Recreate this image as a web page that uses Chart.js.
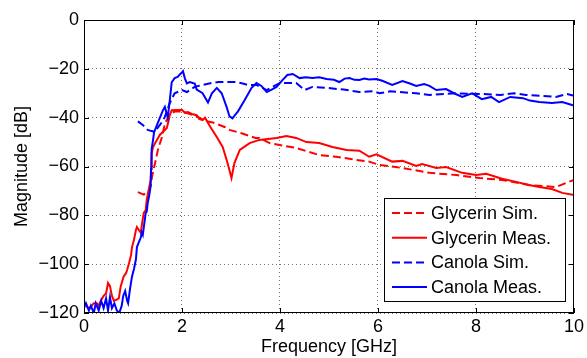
<!DOCTYPE html>
<html><head><meta charset="utf-8">
<script src="https://cdn.jsdelivr.net/npm/chart.js@4"></script>
<style>html,body{margin:0;padding:0;background:#fff;}canvas{display:block;}</style>
</head><body>
<canvas id="c" width="587" height="358"></canvas>
<script>
const seriesLabels = ['Glycerin Sim.', 'Glycerin Meas.', 'Canola Sim.', 'Canola Meas.'];
const xTicks = [0, 2, 4, 6, 8, 10];
const yTicks = [0, -20, -40, -60, -80, -100, -120];

// [frequency GHz, magnitude dB]
const glycerinSim = [[1.1,-70.5],[1.22,-71.5],[1.32,-70],[1.36,-68],[1.39,-64],[1.45,-58.6],[1.51,-53],[1.59,-48],[1.65,-42.5],[1.75,-38.5],[1.85,-37.5],[2.0,-37.5],[2.16,-38.5],[2.3,-39.5],[2.5,-41.5],[2.63,-42],[2.87,-43.8],[2.97,-45],[3.2,-46.3],[3.5,-48.3],[3.58,-48.3],[3.8,-50.5],[4.33,-52.4],[4.8,-55.3],[5.15,-56],[5.56,-57.3],[5.82,-58],[6.03,-59.4],[6.5,-60.6],[7.05,-62.6],[7.6,-63.5],[8.07,-64.7],[8.53,-65.5],[9.08,-67.6],[9.63,-68.4],[9.84,-66.7],[10,-65.5]];
const glycerinMeas = [[0,-117],[0.04,-116.5],[0.08,-118],[0.14,-117.5],[0.2,-116],[0.26,-116],[0.3,-117],[0.35,-114.7],[0.4,-113],[0.45,-112],[0.49,-107.7],[0.53,-109],[0.57,-113],[0.61,-115],[0.65,-114.7],[0.71,-114],[0.75,-109],[0.81,-105],[0.86,-103.6],[0.88,-102.4],[0.92,-99.5],[0.96,-96.2],[0.98,-93],[1.02,-90],[1.06,-86],[1.08,-84.8],[1.12,-86],[1.16,-87.2],[1.18,-84],[1.22,-79],[1.26,-77.8],[1.28,-73.7],[1.32,-69.6],[1.36,-65.5],[1.38,-54.5],[1.41,-52],[1.49,-49],[1.55,-47],[1.61,-45.9],[1.69,-44.2],[1.73,-41],[1.75,-39],[1.79,-37],[1.89,-36.9],[2.0,-36.9],[2.06,-38],[2.12,-37.7],[2.2,-38.5],[2.3,-39],[2.35,-40.5],[2.42,-41],[2.47,-40],[2.57,-43.5],[2.71,-47.9],[2.83,-52],[2.93,-58.6],[3.01,-64.7],[3.07,-58.6],[3.18,-53.2],[3.38,-50.4],[3.58,-49.1],[3.93,-48.3],[4.13,-47.5],[4.33,-48.3],[4.54,-50],[4.8,-50.4],[5.07,-52],[5.36,-53.2],[5.62,-53.5],[5.82,-56],[5.97,-55],[6.29,-58],[6.5,-57.7],[6.78,-59.8],[6.9,-59],[7.19,-60.6],[7.39,-60.2],[7.72,-62.6],[8.0,-63.5],[8.21,-63],[8.53,-65],[8.82,-66.3],[9.08,-67.6],[9.29,-68.4],[9.55,-69.2],[9.76,-70.8],[10,-71.7]];
const canolaSim = [[1.1,-41.5],[1.2,-43],[1.3,-45],[1.38,-45.5],[1.45,-45.8],[1.51,-44],[1.55,-43],[1.6,-41.5],[1.65,-39.7],[1.75,-34],[1.85,-30],[2.0,-28.7],[2.1,-29.5],[2.26,-27.4],[2.42,-26.6],[2.6,-25.8],[2.75,-25.4],[3.1,-25.4],[3.2,-25.8],[3.35,-26.6],[3.52,-26.6],[3.73,-28.7],[3.85,-27.4],[4.0,-25.8],[4.33,-25.8],[4.5,-28.7],[4.66,-27.4],[4.95,-27.8],[5.3,-28.5],[5.62,-29.5],[5.9,-29.2],[6.03,-30],[6.25,-29.2],[6.78,-30],[7.05,-30.7],[7.6,-30],[7.86,-30.2],[8.15,-30.3],[8.5,-30.7],[8.78,-30],[9.02,-30.7],[9.35,-31.1],[9.63,-31.5],[9.86,-30.3],[10,-31]];
const canolaMeas = [[0,-118],[0.04,-116],[0.1,-119],[0.14,-117],[0.2,-120],[0.24,-116],[0.3,-119],[0.35,-115],[0.4,-118],[0.45,-114],[0.49,-119],[0.53,-113.5],[0.57,-118],[0.62,-116],[0.67,-119],[0.72,-120],[0.77,-117],[0.8,-113],[0.84,-111],[0.88,-115],[0.9,-116],[0.94,-110],[0.98,-105],[1.02,-102],[1.06,-98],[1.08,-93],[1.1,-92],[1.16,-89],[1.18,-87],[1.2,-88],[1.24,-82],[1.26,-79],[1.28,-78.5],[1.3,-75],[1.33,-72],[1.36,-68],[1.37,-61],[1.38,-53],[1.41,-49],[1.43,-46],[1.49,-43],[1.55,-40],[1.61,-37],[1.65,-35.6],[1.69,-38.5],[1.71,-40],[1.75,-33],[1.79,-25.5],[1.85,-23.8],[1.91,-23.3],[1.97,-22],[2.0,-21.5],[2.02,-21],[2.06,-24],[2.1,-26],[2.16,-25.4],[2.22,-25.8],[2.26,-26],[2.3,-28.5],[2.42,-30],[2.53,-33.8],[2.61,-30],[2.71,-27.8],[2.81,-30],[2.91,-35.6],[2.97,-39.5],[3.03,-40.3],[3.08,-39],[3.14,-37.5],[3.28,-32.8],[3.42,-27.8],[3.52,-25.8],[3.62,-27],[3.73,-29.5],[3.83,-28.5],[3.93,-27.4],[4.05,-24.6],[4.15,-22.5],[4.26,-22.1],[4.4,-23.8],[4.53,-23.5],[4.66,-23.8],[4.8,-23.5],[4.95,-24.2],[5.1,-24.5],[5.21,-25.4],[5.32,-24],[5.42,-23.8],[5.52,-24.5],[5.62,-24.6],[5.72,-24],[5.82,-24.4],[5.97,-24.2],[6.1,-25],[6.29,-26.6],[6.5,-25],[6.65,-26],[6.78,-27],[6.94,-26.2],[7.05,-27],[7.19,-28.7],[7.39,-28.3],[7.55,-30],[7.72,-31.5],[7.92,-30],[8.0,-31],[8.12,-32.4],[8.31,-31.5],[8.47,-33.6],[8.7,-31.5],[8.96,-32],[9.1,-33],[9.29,-33.6],[9.55,-34],[9.76,-33.6],[9.96,-34.8],[10,-35]];

const toPts = a => a.map(p => ({x: p[0], y: p[1]}));
const FONT = '"Liberation Sans", Arial, Helvetica, sans-serif';

const frame = {
  id: 'frame',
  afterDatasetsDraw(chart) {
    const {ctx, chartArea: a, scales} = chart;
    ctx.save();
    ctx.strokeStyle = '#000';
    ctx.lineWidth = 1;
    ctx.strokeRect(a.left + 0.5, a.top + 0.5, a.right - a.left - 1, a.bottom - a.top - 1);
    ctx.beginPath();
    const L = 5;
    xTicks.forEach(v => {
      const x = Math.round(scales.x.getPixelForValue(v)) + 0.5;
      ctx.moveTo(x, a.bottom); ctx.lineTo(x, a.bottom - L);
      ctx.moveTo(x, a.top); ctx.lineTo(x, a.top + L);
    });
    yTicks.forEach(v => {
      const y = Math.round(scales.y.getPixelForValue(v)) + 0.5;
      ctx.moveTo(a.left, y); ctx.lineTo(a.left + L, y);
      ctx.moveTo(a.right, y); ctx.lineTo(a.right - L, y);
    });
    ctx.stroke();

    // legend box
    const bx = 384.5, by = 198.5, bw = 181, bh = 103;
    ctx.fillStyle = '#fff';
    ctx.fillRect(bx, by, bw, bh);
    ctx.strokeRect(bx, by, bw, bh);
    ctx.font = '18px ' + FONT;
    ctx.textBaseline = 'middle';
    ctx.textAlign = 'left';
    chart.data.datasets.forEach((ds, i) => {
      const y = 213 + i * 24.7;
      ctx.save();
      ctx.strokeStyle = ds.borderColor;
      ctx.lineWidth = 2;
      ctx.setLineDash(ds.borderDash || []);
      ctx.beginPath();
      ctx.moveTo(392, y); ctx.lineTo(427, y);
      ctx.stroke();
      ctx.restore();
      ctx.fillStyle = '#000';
      ctx.fillText(ds.label, 431, y + 1);
    });
    ctx.restore();
  }
};

const mk = (label, data, color, dash, order) => ({
  label, data: toPts(data), borderColor: color, backgroundColor: color,
  borderWidth: 2, borderDash: dash, pointRadius: 0, tension: 0, fill: false, order
});

new Chart(document.getElementById('c'), {
  type: 'line',
  data: {
    datasets: [
      mk(seriesLabels[0], glycerinSim, '#ff0000', [8, 4], 3),
      mk(seriesLabels[1], glycerinMeas, '#ff0000', [], 2),
      mk(seriesLabels[2], canolaSim, '#0000ff', [8, 4], 1),
      mk(seriesLabels[3], canolaMeas, '#0000ff', [], 0)
    ]
  },
  options: {
    responsive: false,
    animation: false,
    events: [],
    layout: {padding: {left: 0, top: 20, right: 12, bottom: 0}},
    plugins: {legend: {display: false}, tooltip: {enabled: false}},
    scales: {
      x: {
        type: 'linear', min: 0, max: 10,
        afterBuildTicks: s => { s.ticks = xTicks.map(v => ({value: v})); },
        afterFit: s => { s.height = 45; },
        ticks: {color: '#000', font: {family: FONT, size: 18}, padding: 3, maxRotation: 0, autoSkip: false},
        grid: {color: 'rgba(0,0,0,0.55)', lineWidth: 1, drawTicks: false},
        border: {display: false, dash: [1, 3]},
        title: {display: true, text: 'Frequency [GHz]', color: '#000', font: {family: FONT, size: 18}, padding: {top: 0, bottom: 0}}
      },
      y: {
        type: 'linear', min: -120, max: 0,
        afterBuildTicks: s => { s.ticks = yTicks.map(v => ({value: v})); },
        afterFit: s => { s.width = 84; },
        ticks: {color: '#000', font: {family: FONT, size: 18}, padding: 5, autoSkip: false,
          callback: v => String(v).replace('-', '\u2212')},
        grid: {color: 'rgba(0,0,0,0.55)', lineWidth: 1, drawTicks: false},
        border: {display: false, dash: [1, 3]},
        title: {display: true, text: 'Magnitude [dB]', color: '#000', font: {family: FONT, size: 18}, padding: {top: 11, bottom: 0}}
      }
    }
  },
  plugins: [frame]
});
</script>
</body></html>
